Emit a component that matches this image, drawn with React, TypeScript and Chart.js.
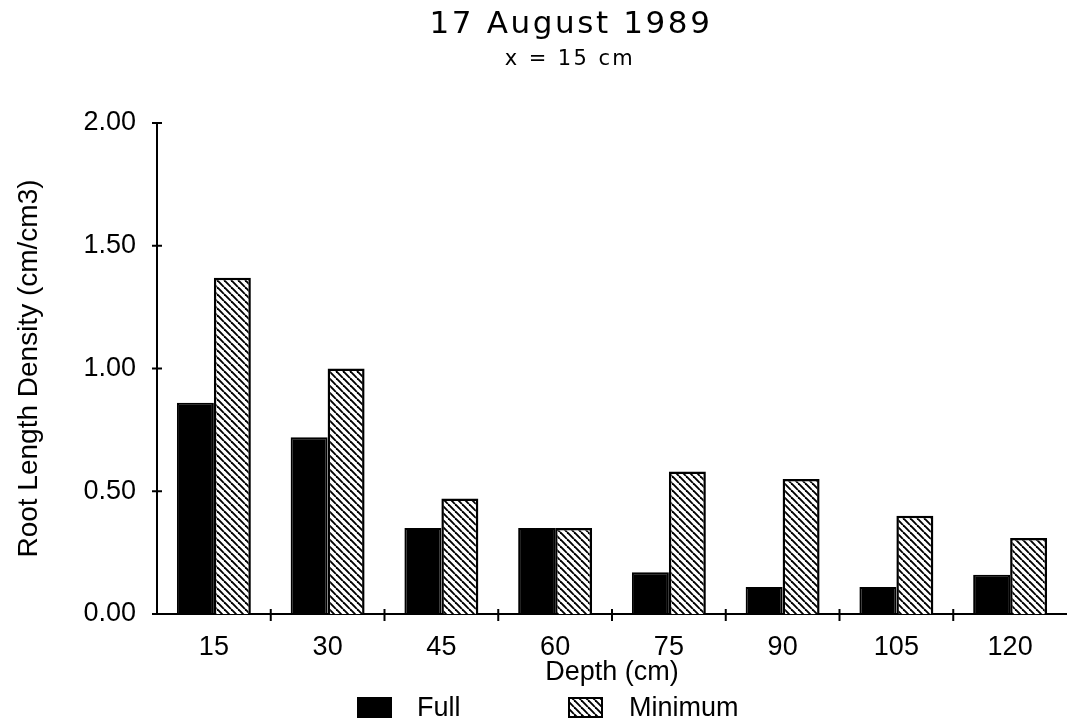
import React, { useEffect, useRef } from 'react';
import { Chart, registerables } from 'chart.js';

Chart.register(...registerables);

// ---- data ----
const depthLabels = ['15', '30', '45', '60', '75', '90', '105', '120'];
const fullValues = [0.86, 0.72, 0.35, 0.35, 0.17, 0.11, 0.11, 0.16];
const minimumValues = [1.37, 1.0, 0.47, 0.35, 0.58, 0.55, 0.4, 0.31];
const seriesNames = ['Full', 'Minimum'];
const yMin = 0;
const yMax = 2;
const yStep = 0.5;
const titleText = '17 August 1989';
const subtitleText = 'x = 15 cm';
const xAxisTitle = 'Depth (cm)';
const yAxisTitle = 'Root Length Density (cm/cm3)';

const AXIS_FONT = "'Liberation Sans', Arial, sans-serif";
const TITLE_FONT = "'DejaVu Sans', sans-serif";

function makeHatch(ctx: CanvasRenderingContext2D): CanvasPattern | string {
  const s = 7;
  const c = document.createElement('canvas');
  c.width = s;
  c.height = s;
  const g = c.getContext('2d');
  if (!g) return '#fff';
  g.fillStyle = '#fff';
  g.fillRect(0, 0, s, s);
  g.strokeStyle = '#000';
  g.lineWidth = 1.9;
  for (let k = -1; k <= 1; k++) {
    g.beginPath();
    g.moveTo(k * s, 0);
    g.lineTo(k * s + s, s);
    g.stroke();
  }
  return ctx.createPattern(c, 'repeat') || '#fff';
}

const overlayPlugin = {
  id: 'overlay',
  afterDraw(chart: any) {
    const { ctx, scales } = chart;
    const x = scales.x;
    const y = scales.y;
    ctx.save();
    ctx.strokeStyle = '#000';
    ctx.fillStyle = '#000';
    ctx.lineWidth = 2;
    // tick marks crossing the axes
    for (let i = 1; i < depthLabels.length; i++) {
      const px = x.getPixelForValue(i - 0.5);
      ctx.beginPath();
      ctx.moveTo(px, x.top - 5);
      ctx.lineTo(px, x.top + 7);
      ctx.stroke();
    }
    y.ticks.forEach((t: any) => {
      const py = y.getPixelForValue(t.value);
      ctx.beginPath();
      ctx.moveTo(y.right - 5, py);
      ctx.lineTo(y.right + 5, py);
      ctx.stroke();
    });

    // titles
    ctx.textAlign = 'center';
    ctx.textBaseline = 'alphabetic';
    (ctx as any).letterSpacing = '2.6px';
    ctx.font = `31px ${TITLE_FONT}`;
    ctx.fillText(titleText, 571, 33);
    (ctx as any).letterSpacing = '2.4px';
    ctx.font = `21px ${TITLE_FONT}`;
    ctx.fillText(subtitleText, 570, 65);
    (ctx as any).letterSpacing = '0px';

    // legend
    const boxX = [357, 568];
    const textX = [417, 629];
    const boxY = 697;
    const boxW = 35;
    const boxH = 21;
    ctx.textAlign = 'left';
    ctx.textBaseline = 'middle';
    ctx.font = `27px ${AXIS_FONT}`;
    chart.data.datasets.forEach((ds: any, i: number) => {
      ctx.fillStyle = ds.backgroundColor;
      ctx.fillRect(boxX[i], boxY, boxW, boxH);
      ctx.lineWidth = 2;
      ctx.strokeStyle = '#000';
      ctx.strokeRect(boxX[i] + 1, boxY + 1, boxW - 2, boxH - 2);
      ctx.fillStyle = '#000';
      ctx.fillText(ds.label, textX[i], boxY + boxH / 2 + 1);
    });
    ctx.restore();
  },
};

export default function App() {
  const canvasRef = useRef<HTMLCanvasElement | null>(null);

  useEffect(() => {
    document.body.style.margin = '0';
    const canvas = canvasRef.current;
    if (!canvas) return;
    const ctx = canvas.getContext('2d');
    if (!ctx) return;
    const hatch = makeHatch(ctx);

    const chart = new Chart(ctx, {
      type: 'bar',
      data: {
        labels: depthLabels,
        datasets: [
          {
            label: seriesNames[0],
            data: fullValues,
            backgroundColor: '#000',
            borderColor: '#000',
            borderWidth: 2,
            barPercentage: 1,
            categoryPercentage: 0.65,
          },
          {
            label: seriesNames[1],
            data: minimumValues,
            backgroundColor: hatch as any,
            borderColor: '#000',
            borderWidth: 2.5,
            barPercentage: 1,
            categoryPercentage: 0.65,
          },
        ],
      },
      options: {
        animation: false,
        responsive: false,
        devicePixelRatio: 1,
        layout: { padding: { top: 123, left: 0, right: 0, bottom: 0 } },
        plugins: {
          legend: { display: false },
          title: { display: false },
          tooltip: { enabled: false },
        },
        scales: {
          x: {
            type: 'category',
            offset: true,
            grid: { display: false },
            border: { display: true, color: '#000', width: 2 },
            ticks: {
              color: '#000',
              font: { size: 27, family: AXIS_FONT },
              padding: 9,
              maxRotation: 0,
              autoSkip: false,
            },
            title: {
              display: true,
              text: xAxisTitle,
              color: '#000',
              font: { size: 27, family: AXIS_FONT },
              padding: { top: 0, bottom: 38 },
            },
            afterFit: (s: any) => {
              s.height = 113;
            },
          },
          y: {
            type: 'linear',
            min: yMin,
            max: yMax,
            grid: { display: false },
            border: { display: true, color: '#000', width: 2 },
            ticks: {
              stepSize: yStep,
              color: '#000',
              font: { size: 27, family: AXIS_FONT },
              padding: 13,
              callback: (v: any) => Number(v).toFixed(2),
            },
            title: {
              display: true,
              text: yAxisTitle,
              color: '#000',
              font: { size: 28, family: AXIS_FONT },
              padding: { top: 12, bottom: 0 },
            },
            afterFit: (s: any) => {
              s.width = 157;
            },
          },
        },
      },
      plugins: [overlayPlugin],
    });

    return () => chart.destroy();
  }, []);

  return (
    <div style={{ width: 1067, height: 727, background: '#fff' }}>
      <canvas ref={canvasRef} width={1067} height={727} style={{ display: 'block' }} />
    </div>
  );
}
